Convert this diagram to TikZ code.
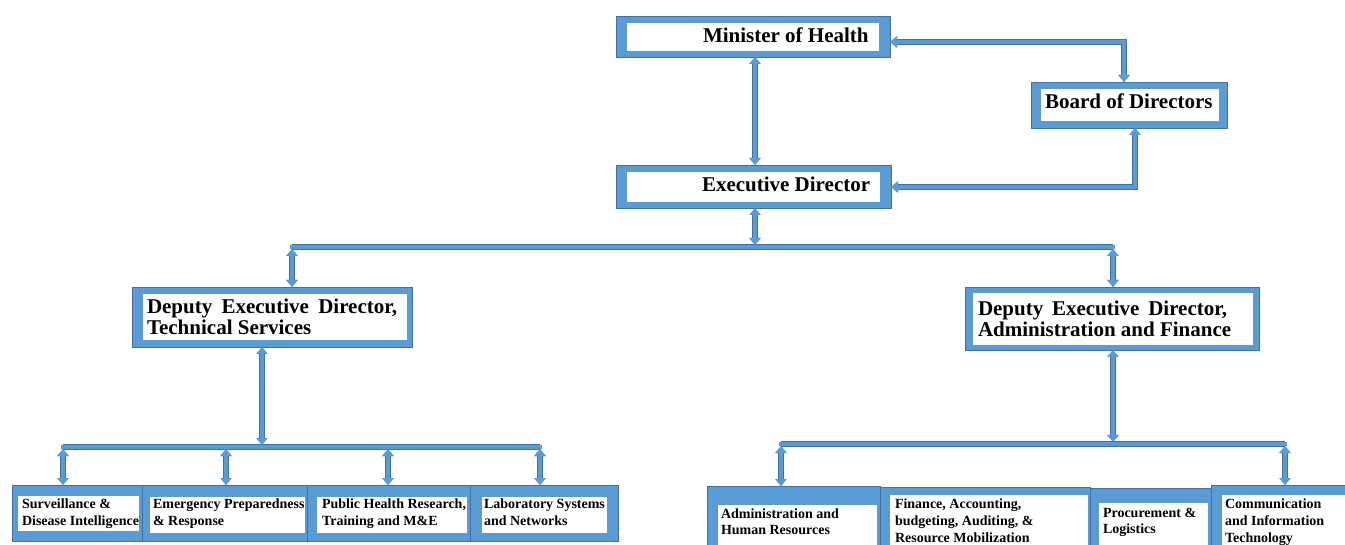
\documentclass[tikz,border=0pt]{standalone}
\usepackage{fontspec}
\setmainfont{Liberation Serif}
\usetikzlibrary{fit,arrows.meta}
\definecolor{fillblue}{HTML}{5B9BD5}
\definecolor{edgeblue}{HTML}{41719C}
\newcommand\bigf{\fontsize{21}{24}\selectfont\bfseries}
\newcommand\smallf{\fontsize{14}{17}\selectfont\bfseries}
\tikzset{
  obox/.style={fill=fillblue, draw=edgeblue, line width=0.8pt, inner sep=0pt, outer sep=0pt},
  ibox/.style={fill=white, draw=none, inner sep=0pt, outer sep=0pt},
  bigtxt/.style={anchor=base west, inner sep=0pt, outer sep=0pt, font=\bigf, text=black},
  smalltxt/.style={anchor=base west, inner sep=0pt, outer sep=0pt, font=\smallf, text=black},
  busline/.style={draw=fillblue, line width=3.6pt, line cap=rect,
     preaction={draw=edgeblue, line width=5.2pt}},
  conn/.style={draw=fillblue, line width=3.6pt,
     preaction={draw=edgeblue, line width=5.2pt},
     {Triangle[width=11pt,length=7pt]}-{Triangle[width=11pt,length=7pt]}},
}
\begin{document}
\begin{tikzpicture}[x=1pt,y=-1pt]
\path[use as bounding box, clip] (0,0) rectangle (1345,545);
\fill[white] (0,0) rectangle (1345,545);
% ---------- top boxes
\node[obox, fit={(616,16) (890,57)}] (min) {};
\node[ibox, fit={(627,23) (879,51)}] (mini) {};
\node[bigtxt] (mint) at (703,43) {Minister of Health};

\node[obox, fit={(616,165) (891,208)}] (exe) {};
\node[ibox, fit={(627,172) (880,202)}] (exei) {};
\node[bigtxt] (exet) at (702,192) {Executive Director};

\node[obox, fit={(1031,82) (1227,128)}] (bod) {};
\node[ibox, fit={(1041,89) (1219,121)}] (bodi) {};
\node[bigtxt] (bodt) at (1045,109) {Board of Directors};

% ---------- deputies
\node[obox, fit={(132,287) (412,347)}] (dts) {};
\node[ibox, fit={(143,294) (407,340)}] (dtsi) {};
\node[bigtxt] (dtst1) at (147,314) {\makebox[250pt][s]{Deputy Executive Director,}};
\node[bigtxt] (dtst2) at (147,335) {Technical Services};

\node[obox, fit={(965,287) (1259,350)}] (dad) {};
\node[ibox, fit={(973,293) (1253,345)}] (dadi) {};
\node[bigtxt] (dadt1) at (978,316) {\makebox[249pt][s]{Deputy Executive Director,}};
\node[bigtxt] (dadt2) at (978,337) {Administration and Finance};

% ---------- bottom left group
\node[obox, fit={(12,485) (142,541)}] (b1) {};
\node[ibox, fit={(18,496) (139,531)}] (b1i) {};
\node[obox, fit={(142,485) (307,541)}] (b2) {};
\node[ibox, fit={(150,497) (305,533)}] (b2i) {};
\node[obox, fit={(307,485) (470,541)}] (b3) {};
\node[ibox, fit={(317,497) (467,533)}] (b3i) {};
\node[obox, fit={(470,485) (618,541)}] (b4) {};
\node[ibox, fit={(482,497) (607,533)}] (b4i) {};
\node[smalltxt] (b1t1) at (22,508) {Surveillance \&};
\node[smalltxt] (b1t2) at (22,525) {Disease Intelligence};
\node[smalltxt] (b2t1) at (153,508) {Emergency Preparedness};
\node[smalltxt] (b2t2) at (153,525) {\& Response};
\node[smalltxt] (b3t1) at (322,508) {Public Health Research,};
\node[smalltxt] (b3t2) at (322,525) {Training and M\&E};
\node[smalltxt] (b4t1) at (484,508) {Laboratory Systems};
\node[smalltxt] (b4t2) at (484,525) {and Networks};

% ---------- bottom right group
\node[obox, fit={(707,486) (880,556)}] (r1) {};
\node[ibox, fit={(718,505) (877,556)}] (r1i) {};
\node[obox, fit={(880,487) (1090,556)}] (r2) {};
\node[ibox, fit={(890,495) (1088,556)}] (r2i) {};
\node[obox, fit={(1090,488) (1211,556)}] (r3) {};
\node[ibox, fit={(1099,503) (1208,556)}] (r3i) {};
\node[obox, fit={(1211,485) (1352,556)}] (r4) {};
\node[ibox, fit={(1222,495) (1345,556)}] (r4i) {};
\node[smalltxt] (r1t1) at (721,518) {Administration and};
\node[smalltxt] (r1t2) at (721,534) {Human Resources};
\node[smalltxt] (r2t1) at (895,508) {Finance, Accounting,};
\node[smalltxt] (r2t2) at (895,525) {budgeting, Auditing, \&};
\node[smalltxt] (r2t3) at (895,542) {Resource Mobilization};
\node[smalltxt] (r3t1) at (1103,517) {Procurement \&};
\node[smalltxt] (r3t2) at (1103,533) {Logistics};
\node[smalltxt] (r4t1) at (1225,508) {Communication};
\node[smalltxt] (r4t2) at (1225,525) {and Information};
\node[smalltxt] (r4t3) at (1225,542) {Technology};

% ---------- coordinates for connectors
\coordinate (c1) at (1124,42);
\coordinate (c2) at (1135,187);
\coordinate (c3) at (755,247);
\coordinate (busL) at (292,247);
\coordinate (busR) at (1113,247);
\coordinate (lbusA) at (63,447);
\coordinate (lbusB) at (226,447);
\coordinate (lbusC) at (388,447);
\coordinate (lbusD) at (540,447);
\coordinate (lup) at (262,447);
\coordinate (rbusA) at (781,444);
\coordinate (rbusB) at (1285,444);
\coordinate (rup) at (1113,444);

% ---------- connectors
\draw[conn] (c1 |- bod.north) -- (c1) -- (c1 -| min.east);
\draw[conn] (c2 |- bod.south) -- (c2) -- (c2 -| exe.east);
\draw[conn] (c3 |- min.south) -- (c3 |- exe.north);

\draw[busline] (busL) -- (busR);
\draw[conn] (c3 |- exe.south) -- ([yshift=2pt]c3);
\draw[conn] ([yshift=-2pt]busL) -- (busL |- dts.north);
\draw[conn] ([yshift=-2pt]busR) -- (busR |- dad.north);

\draw[busline] (lbusA) -- (lbusD);
\draw[conn] (lup |- dts.south) -- ([yshift=2pt]lup);
\draw[conn] ([yshift=-2pt]lbusA) -- (lbusA |- b1.north);
\draw[conn] ([yshift=-2pt]lbusB) -- (lbusB |- b2.north);
\draw[conn] ([yshift=-2pt]lbusC) -- (lbusC |- b3.north);
\draw[conn] ([yshift=-2pt]lbusD) -- (lbusD |- b4.north);

\draw[busline] (rbusA) -- (rbusB);
\draw[conn] (rup |- dad.south) -- ([yshift=2pt]rup);
\draw[conn] ([yshift=-2pt]rbusA) -- (rbusA |- r1.north);
\draw[conn] ([yshift=-2pt]rbusB) -- (rbusB |- r4.north);
\end{tikzpicture}
\end{document}
